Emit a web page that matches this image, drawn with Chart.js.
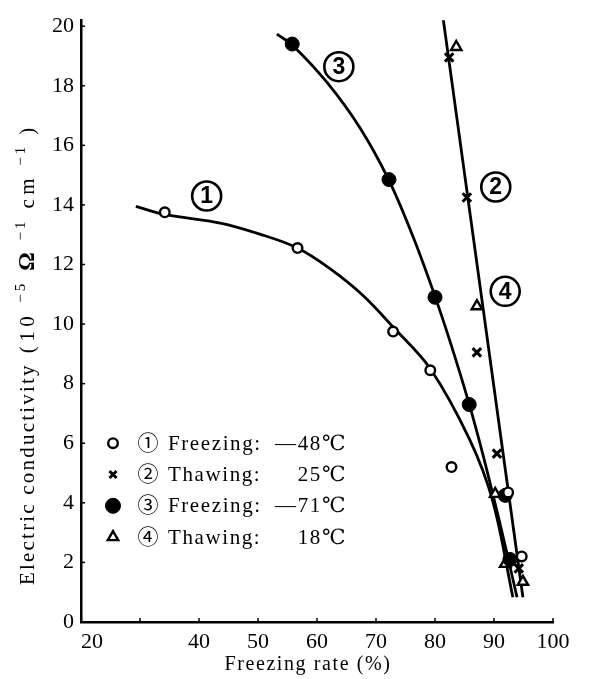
<!DOCTYPE html>
<html>
<head>
<meta charset="utf-8">
<script src="https://cdn.jsdelivr.net/npm/chart.js@4"></script>
<style>
  html, body { margin: 0; padding: 0; background: #fff; }
  #wrap { width: 603px; height: 679px; }
</style>
</head>
<body>
<div id="wrap"><canvas id="chart" width="603" height="679"></canvas></div>
<script>
// measured points, [freezing rate %, conductivity 1e-5 S/cm]
const freezing48 = [[34.2, 13.75], [56.7, 12.55], [72.9, 9.75], [79.2, 8.45], [82.8, 5.2], [92.4, 4.35], [94.7, 2.2]];
const thawing25 = [[82.4, 18.95], [85.4, 14.25], [87.1, 9.05], [90.5, 5.65], [94.2, 1.8]];
const freezing71 = [[55.8, 19.4], [72.2, 14.85], [80.0, 10.9], [85.8, 7.3], [91.9, 4.25], [92.7, 2.1]];
const thawing18 = [[83.6, 19.3], [87.1, 10.6], [90.2, 4.3], [91.9, 1.95], [94.9, 1.35]];

// hand-drawn fit curves
const curve1 = [[29.3, 13.95], [34.2, 13.68], [43.6, 13.39], [50.3, 13.02], [56.6, 12.56], [62.2, 11.86],
    [67.8, 10.96], [72.9, 9.9], [79.2, 8.5], [85.9, 6.11], [89.8, 4.05], [93.2, 0.83]];
const curve3 = [[53.2, 19.73], [55.8, 19.37], [61.7, 18.11], [67.3, 16.58], [72.2, 14.82], [76.3, 12.92],
    [80.0, 10.93], [82.9, 9.2], [85.8, 7.31], [88.0, 5.71], [89.8, 4.29], [91.9, 2.56], [93.9, 0.83]];
const curve24 = [[81.4, 20.23], [94.9, 0.83]];

// circled curve numbers placed on the plot
const curveLabels = ['1', '2', '3', '4'];
const curveLabelPos = [[41.3, 14.3], [90.3, 14.6], [63.7, 18.64], [91.9, 11.1]];

const xTickValues = [20, 30, 40, 50, 60, 70, 80, 90, 100];
const xTickLabels = ['\u200320', '', '40', '50', '60', '70', '80', '90', '100'];
const yTickValues = [0, 2, 4, 6, 8, 10, 12, 14, 16, 18, 20];

const legendMarks = ['o', 'x', 'filled', 'tri'];
const legendNums = ['\u2460', '\u2461', '\u2462', '\u2463'];
const legendNames = ['Freezing:', 'Thawing:', 'Freezing:', 'Thawing:'];
const legendTemps = ['\u201448\u2103', '25\u2103', '\u201471\u2103', '18\u2103'];

const SERIF = '"Liberation Serif", "DejaVu Serif", serif';

function toXY(arr) {
    return arr.map(p => ({ x: p[0], y: p[1] }));
}

const markStyles = {
    o: { pointStyle: 'circle', radius: 4.8, borderWidth: 2.4, backgroundColor: '#fff', borderColor: '#000' },
    x: { pointStyle: 'crossRot', radius: 6, borderWidth: 3, backgroundColor: '#000', borderColor: '#000' },
    filled: { pointStyle: 'circle', radius: 7, borderWidth: 1, backgroundColor: '#000', borderColor: '#000' },
    tri: { pointStyle: 'triangle', radius: 6, borderWidth: 2.4, backgroundColor: '#fff', borderColor: '#000' }
};

function pointSet(label, arr, mark) {
    const s = markStyles[mark];
    return {
        label: label,
        data: toXY(arr),
        showLine: false,
        pointStyle: s.pointStyle,
        pointRadius: s.radius,
        pointBorderWidth: s.borderWidth,
        pointBackgroundColor: s.backgroundColor,
        pointBorderColor: s.borderColor,
        order: 1
    };
}

function curveSet(label, arr) {
    return {
        label: label,
        data: toXY(arr),
        showLine: true,
        borderColor: '#000',
        borderWidth: 2.8,
        pointRadius: 0,
        tension: 0.35,
        order: 2
    };
}

// draws text pieces one after another, with size / raise per piece
function drawPieces(ctx, pieces, x, y) {
    pieces.forEach(p => {
        ctx.font = (p.bold ? 'bold ' : '') + p.size + 'px ' + SERIF;
        ctx.letterSpacing = p.spacing + 'px';
        ctx.fillText(p.text, x, y - (p.raise || 0));
        x += ctx.measureText(p.text).width + (p.gap || 0);
    });
    ctx.letterSpacing = '0px';
}

// inward tick marks, circled labels, legend and axis titles
const decorations = {
    id: 'decorations',
    afterDraw(chart) {
        const ctx = chart.ctx;
        const xs = chart.scales.x;
        const ys = chart.scales.y;
        const area = chart.chartArea;
        ctx.save();
        ctx.strokeStyle = '#000';
        ctx.lineWidth = 1.5;
        xTickValues.forEach(v => {
            const px = xs.getPixelForValue(v);
            ctx.beginPath();
            ctx.moveTo(px, area.bottom);
            ctx.lineTo(px, area.bottom - 4);
            ctx.stroke();
        });
        yTickValues.forEach(v => {
            const py = ys.getPixelForValue(v);
            ctx.beginPath();
            ctx.moveTo(area.left, py);
            ctx.lineTo(area.left + 4, py);
            ctx.stroke();
        });

        // circled curve numbers
        curveLabels.forEach((t, i) => {
            const px = xs.getPixelForValue(curveLabelPos[i][0]);
            const py = ys.getPixelForValue(curveLabelPos[i][1]);
            ctx.fillStyle = '#fff';
            ctx.lineWidth = 2.6;
            ctx.beginPath();
            ctx.arc(px, py, 14.5, 0, Math.PI * 2);
            ctx.fill();
            ctx.stroke();
            ctx.fillStyle = '#000';
            ctx.font = 'bold 23px "Liberation Sans", Arial, sans-serif';
            ctx.textAlign = 'center';
            ctx.textBaseline = 'middle';
            ctx.fillText(t, px, py + 1);
        });

        // legend
        const lx = area.left + 32;
        const ly = area.top + 423;
        legendMarks.forEach((m, i) => {
            const y = ly + i * 31.3;
            const s = markStyles[m];
            ctx.lineWidth = s.borderWidth;
            ctx.strokeStyle = s.borderColor;
            ctx.fillStyle = s.backgroundColor;
            Chart.helpers.drawPoint(ctx, {
                pointStyle: s.pointStyle,
                radius: m === 'filled' ? 7.5 : (m === 'x' ? 5 : s.radius),
                rotation: 0,
                borderWidth: s.borderWidth
            }, lx, y);
            ctx.fillStyle = '#000';
            ctx.textBaseline = 'middle';
            ctx.textAlign = 'center';
            ctx.font = '21px ' + SERIF + ', "Noto Sans CJK JP"';
            ctx.fillText(legendNums[i], lx + 35, y + 1);
            ctx.textAlign = 'left';
            ctx.font = '21px ' + SERIF;
            ctx.letterSpacing = '1.6px';
            ctx.fillText(legendNames[i], lx + 55, y + 1);
            ctx.textAlign = 'right';
            ctx.fillText(legendTemps[i], lx + 234, y + 1);
            ctx.letterSpacing = '0px';
        });

        // axis titles
        ctx.fillStyle = '#000';
        ctx.textBaseline = 'middle';
        ctx.textAlign = 'center';
        ctx.font = '20px ' + SERIF;
        ctx.letterSpacing = '1.6px';
        ctx.fillText('Freezing rate (%)', 308, 665);
        ctx.letterSpacing = '0px';

        ctx.textAlign = 'left';
        ctx.translate(28, 585);
        ctx.rotate(-Math.PI / 2);
        drawPieces(ctx, [
            { text: 'Electric conductivity', size: 21, spacing: 2.2, gap: 10 },
            { text: '(10', size: 21, spacing: 4.5, gap: 9 },
            { text: '\u22125', size: 15, spacing: 3, raise: 7, gap: 10 },
            { text: '\u03A9', size: 23, bold: true, spacing: 2, gap: 10 },
            { text: '\u22121', size: 15, spacing: 3, raise: 7, gap: 10 },
            { text: 'cm', size: 21, spacing: 4.5, gap: 8 },
            { text: '\u22121', size: 15, spacing: 3, raise: 7, gap: 9 },
            { text: ')', size: 21, spacing: 0 }
        ], 0, 0);
        ctx.restore();
    }
};

const ctx = document.getElementById('chart').getContext('2d');
new Chart(ctx, {
    type: 'scatter',
    data: {
        datasets: [
            curveSet('curve 1', curve1),
            curveSet('curve 3', curve3),
            curveSet('curve 2/4', curve24),
            pointSet('Freezing -48', freezing48, 'o'),
            pointSet('Thawing 25', thawing25, 'x'),
            pointSet('Freezing -71', freezing71, 'filled'),
            pointSet('Thawing 18', thawing18, 'tri')
        ]
    },
    options: {
        responsive: false,
        animation: false,
        layout: { padding: { left: 0, top: 14, right: 50, bottom: 0 } },
        plugins: {
            legend: { display: false },
            tooltip: { enabled: false }
        },
        scales: {
            x: {
                type: 'linear',
                min: 20,
                max: 100,
                afterBuildTicks: s => { s.ticks = xTickValues.map(v => ({ value: v })); },
                afterFit: s => { s.height = 57; },
                grid: { display: false, drawTicks: false },
                border: { display: true, color: '#000', width: 2.5 },
                ticks: {
                    padding: 7,
                    color: '#000',
                    maxRotation: 0,
                    autoSkip: false,
                    font: { family: SERIF, size: 22 },
                    callback: (v, i) => xTickLabels[i]
                }
            },
            y: {
                type: 'linear',
                min: 0,
                max: 20.2,
                afterBuildTicks: s => { s.ticks = yTickValues.map(v => ({ value: v })); },
                afterFit: s => { s.width = 81; },
                grid: { display: false, drawTicks: false },
                border: { display: true, color: '#000', width: 2.5 },
                ticks: {
                    padding: 7,
                    color: '#000',
                    autoSkip: false,
                    font: { family: SERIF, size: 22 }
                }
            }
        }
    },
    plugins: [decorations]
});
</script>
</body>
</html>
